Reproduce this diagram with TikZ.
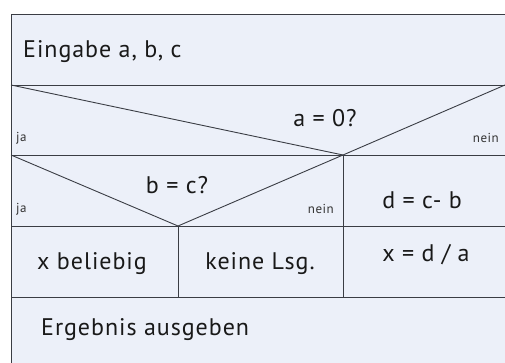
\documentclass[tikz,border=0pt]{standalone}
\usepackage{fontspec}
\setmainfont{PT Sans}[LetterSpace=4]
\definecolor{bgfill}{HTML}{ECF0F9}
\definecolor{linec}{HTML}{3A3D44}
\begin{document}
\begin{tikzpicture}[x=1pt,y=-1pt,
  rule/.style={draw=linec,line width=0.9pt},
  big/.style={font=\fontsize{24}{26}\selectfont,text=black!90,inner sep=0pt},
  small/.style={font=\fontsize{13}{15}\selectfont,text=black!80,inner sep=0pt}]
\useasboundingbox (0,0) rectangle (505,363);
\clip (0,0) rectangle (505,363);
% outer box
\fill[bgfill] (11,14) rectangle (520,380);
\coordinate (TL) at (11,14);
\coordinate (L1) at (11,85);
\coordinate (L2) at (11,155);
\coordinate (L3) at (11,226);
\coordinate (L4) at (11,297);
\coordinate (R1) at (520,85);
\coordinate (R2) at (520,155);
\coordinate (R3) at (520,226);
\coordinate (R4) at (520,297);
\coordinate (P) at (343,155);
\coordinate (Q) at (178,226);
\coordinate (RD) at (505,85);
\coordinate (B1) at (343,297);
\coordinate (B2) at (178,297);
\draw[rule] (520,14) -- (TL) -- (11,380);
\draw[rule] (L1) -- (R1);
\draw[rule] (L2) -- (R2);
\draw[rule] (L3) -- (R3);
\draw[rule] (L4) -- (R4);
\draw[rule] (L1) -- (P) -- (RD);
\draw[rule] (L2) -- (Q) -- (P);
\draw[rule] (P) -- (B1);
\draw[rule] (Q) -- (B2);
% texts
\node[big,anchor=west] (t1) at (23,52) {Eingabe a, b, c};
\node[big] (t2) at (325,118) {a = 0?};
\node[small,anchor=west] (j1) at (16,138) {ja};
\node[small,anchor=east] (n1) at (499,138) {nein};
\node[big] (t3) at (177,185) {b = c?};
\node[small,anchor=west] (j2) at (16,209) {ja};
\node[small,anchor=east] (n2) at (334,209) {nein};
\node[big] (t4) at (422,200) {d = c- b};
\node[big] (t5) at (92,264) {x beliebig};
\node[big] (t6) at (260,264) {keine Lsg.};
\node[big] (t7) at (426,255) {x = d / a};
\node[big,anchor=west] (t8) at (41,330) {Ergebnis ausgeben};
\end{tikzpicture}
\end{document}
